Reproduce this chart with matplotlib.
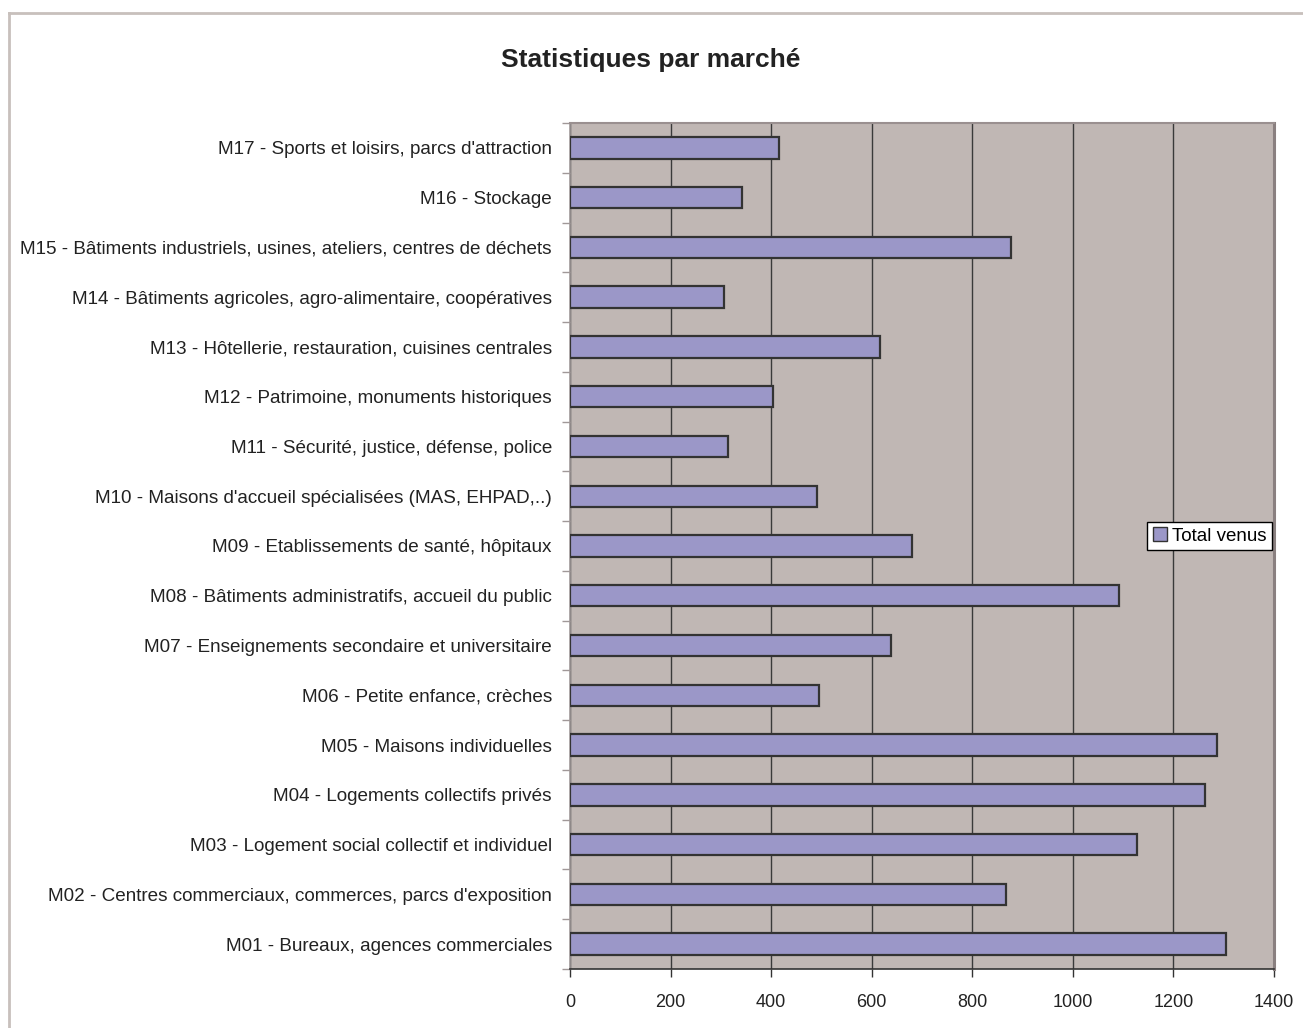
import numpy as np
import matplotlib
matplotlib.use("Agg")
import matplotlib.pyplot as plt
from matplotlib.lines import Line2D
from matplotlib.patches import Patch

plt.rcParams['font.family'] = ['Liberation Sans', 'DejaVu Sans']

# données (du bas vers le haut)
categories = [
    "M01 - Bureaux, agences commerciales",
    "M02 - Centres commerciaux, commerces, parcs d'exposition",
    "M03 - Logement social collectif et individuel",
    "M04 - Logements collectifs privés",
    "M05 - Maisons individuelles",
    "M06 - Petite enfance, crèches",
    "M07 - Enseignements secondaire et universitaire",
    "M08 - Bâtiments administratifs, accueil du public",
    "M09 - Etablissements de santé, hôpitaux",
    "M10 - Maisons d'accueil spécialisées (MAS, EHPAD,..)",
    "M11 - Sécurité, justice, défense, police",
    "M12 - Patrimoine, monuments historiques",
    "M13 - Hôtellerie, restauration, cuisines centrales",
    "M14 - Bâtiments agricoles, agro-alimentaire, coopératives",
    "M15 - Bâtiments industriels, usines, ateliers, centres de déchets",
    "M16 - Stockage",
    "M17 - Sports et loisirs, parcs d'attraction",
]
total_venus = [1305, 867, 1128, 1262, 1287, 495, 638, 1091, 681, 492,
               315, 403, 617, 306, 876, 342, 416]
x_ticks = [0, 200, 400, 600, 800, 1000, 1200, 1400]

bg_plot = "#C0B7B4"
bar_col = "#9B97C8"

fig = plt.figure(figsize=(13.03, 10.28), dpi=100, facecolor="white")
ax = fig.add_axes([570/1303, 1-969/1028, 704/1303, 846/1028], facecolor=bg_plot)

y = np.arange(len(categories))
ax.barh(y, total_venus, height=0.43, color=bar_col, edgecolor="#333333",
        linewidth=1.6, zorder=3)

ax.set_xlim(0, 1400)
ax.set_ylim(-0.5, len(categories) - 0.5)
ax.set_xticks(x_ticks)
ax.set_xticklabels([str(v) for v in x_ticks], fontsize=13, color="#222222")
ax.set_yticks(y)
ax.set_yticklabels(categories, fontsize=13.6, color="#222222")
ax.set_yticks(np.arange(-0.5, len(categories), 1), minor=True)
ax.tick_params(axis="y", which="major", length=0, pad=13)
ax.tick_params(axis="y", which="minor", length=6, color="#a09898", width=1)
ax.tick_params(axis="x", length=6, color="#333333", width=1, pad=12)

ax.grid(axis="x", color="#3a3a3a", linewidth=1, zorder=1)
ax.set_axisbelow(True)

ax.spines["top"].set_color("#9a9090")
ax.spines["top"].set_linewidth(1.5)
ax.spines["right"].set_color("#8a8080")
ax.spines["right"].set_linewidth(2.2)
ax.spines["left"].set_color("#a09898")
ax.spines["left"].set_linewidth(1.2)
ax.spines["bottom"].set_color("#333333")
ax.spines["bottom"].set_linewidth(1.2)

handles = [Patch(facecolor=bar_col, edgecolor="#333333", linewidth=1, label="Total venus")]
leg = ax.legend(handles=handles, loc="center left", bbox_to_anchor=(1147/1303, 1-536/1028),
                bbox_transform=fig.transFigure, fontsize=13.5, frameon=True, fancybox=False,
                edgecolor="black", handlelength=0.75, handleheight=0.75, handletextpad=0.3,
                borderpad=0.3, borderaxespad=0)
leg.get_frame().set_linewidth(1)
leg.get_frame().set_facecolor("white")
leg.get_frame().set_alpha(1)

fig.text(651/1303, 1-60/1028, "Statistiques par marché", ha="center", va="center",
         fontsize=19, fontweight="bold", color="#222222")

# cadre du graphique
fig.add_artist(Line2D([9/1303, 1], [1-13/1028, 1-13/1028], transform=fig.transFigure,
                      color="#c8c0bc", linewidth=2))
fig.add_artist(Line2D([9/1303, 9/1303], [1-13/1028, 0], transform=fig.transFigure,
                      color="#c8c0bc", linewidth=2))

fig.savefig("out.png", dpi=100, facecolor="white")
